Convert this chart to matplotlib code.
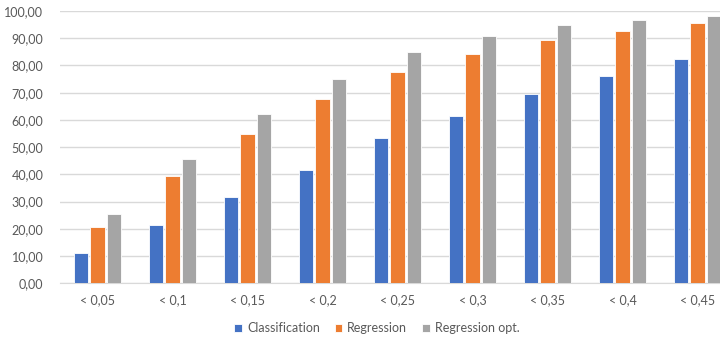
import numpy as np
import matplotlib
matplotlib.use("Agg")
import matplotlib.pyplot as plt

categories = ["< 0,05", "< 0,1", "< 0,15", "< 0,2", "< 0,25", "< 0,3", "< 0,35", "< 0,4", "< 0,45"]
classification = [11.0, 21.3, 31.7, 41.6, 53.2, 61.6, 69.5, 76.0, 82.3]
regression = [20.6, 39.3, 54.8, 67.6, 77.6, 84.3, 89.5, 92.7, 95.5]
regression_opt = [25.3, 45.6, 62.1, 75.1, 85.1, 90.7, 94.7, 96.7, 98.3]

series = [
    ("Classification", classification, "#4472C4"),
    ("Regression", regression, "#ED7D31"),
    ("Regression opt.", regression_opt, "#A5A5A5"),
]

plt.rcParams["font.family"] = ["Lato", "DejaVu Sans"]
text_color = "#595959"

fig = plt.figure(figsize=(7.2, 3.39), dpi=100)
ax = fig.add_axes([60 / 720, 1 - 283.3 / 339, 660 / 720, (283.3 - 11) / 339])

x = np.arange(len(categories))
width = 0.19
step = 0.22
for i, (name, vals, color) in enumerate(series):
    ax.bar(x + (i - 1) * step, vals, width, color=color, label=name,
           edgecolor="white", linewidth=0.6, zorder=3)

ax.set_ylim(0, 100)
ax.set_xlim(-0.5, 8.3)
ax.set_yticks(np.arange(0, 101, 10))
ax.set_yticklabels([f"{v},00" for v in range(0, 101, 10)])
ax.set_xticks(x)
ax.set_xticklabels(categories)
ax.tick_params(axis="both", length=0, colors=text_color, labelsize=9)
ax.tick_params(axis="y", pad=12)
ax.tick_params(axis="x", pad=8)

ax.grid(axis="y", color="#d9d9d9", linewidth=1, zorder=0)
for side in ["top", "right", "left"]:
    ax.spines[side].set_visible(False)
ax.spines["bottom"].set_color("#d9d9d9")

fig.legend(loc="center", bbox_to_anchor=(377 / 720, 1 - 328 / 339), ncol=3,
           frameon=False, fontsize=9, handlelength=0.6, handleheight=0.6,
           columnspacing=1.2, handletextpad=0.4, labelcolor=text_color)

fig.savefig("out.png", dpi=100)
